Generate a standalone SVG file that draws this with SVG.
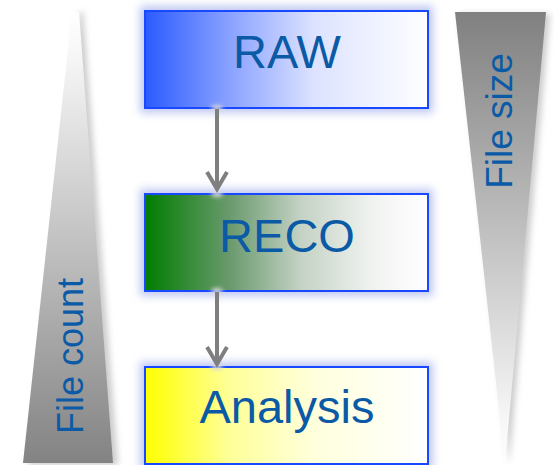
<svg xmlns="http://www.w3.org/2000/svg" width="554" height="465" viewBox="0 0 554 465">
<style>
.box{stroke:#1848ff;stroke-width:2}
.glow{fill:#bfc8f2;filter:url(#blur4)}
.lbl{font-family:"Liberation Sans",Arial,sans-serif;font-size:47px;fill:#0b5aa6;text-anchor:middle}
.side{font-family:"Liberation Sans",Arial,sans-serif;fill:#0b5aa6;text-anchor:middle}
.conn{stroke:#7f7f7f;stroke-width:4;fill:none}
.dot{fill:#d8d8d8;filter:url(#blur2)}
</style>
<defs>
<filter id="blur4" x="-20%" y="-20%" width="140%" height="140%"><feGaussianBlur stdDeviation="4"/></filter>
<filter id="blur2" x="-100%" y="-100%" width="300%" height="300%"><feGaussianBlur stdDeviation="2"/></filter>
<filter id="shadow" x="-30%" y="-10%" width="160%" height="120%"><feGaussianBlur stdDeviation="3"/></filter>
<linearGradient id="gRaw" x1="0" y1="0" x2="1" y2="0">
<stop offset="0" stop-color="#2b5bff"/><stop offset="0.3" stop-color="#8aa2ff"/><stop offset="0.6" stop-color="#dde3ff"/><stop offset="1" stop-color="#ffffff"/>
</linearGradient>
<linearGradient id="gReco" x1="0" y1="0" x2="1" y2="0">
<stop offset="0" stop-color="#007d00"/><stop offset="0.3" stop-color="#6a9a6e"/><stop offset="0.55" stop-color="#c4d2c4"/><stop offset="0.8" stop-color="#f0f2f0"/><stop offset="1" stop-color="#ffffff"/>
</linearGradient>
<linearGradient id="gAna" x1="0" y1="0" x2="1" y2="0">
<stop offset="0" stop-color="#ffff00"/><stop offset="0.3" stop-color="#ffff99"/><stop offset="0.6" stop-color="#ffffdd"/><stop offset="1" stop-color="#ffffff"/>
</linearGradient>
<linearGradient id="gCount" x1="0" y1="0" x2="0" y2="1">
<stop offset="0" stop-color="#ffffff"/><stop offset="0.1" stop-color="#f6f6f6"/><stop offset="1" stop-color="#838383"/>
</linearGradient>
<linearGradient id="gSize" x1="0" y1="0" x2="0" y2="1">
<stop offset="0" stop-color="#808080"/><stop offset="0.9" stop-color="#f6f6f6"/><stop offset="1" stop-color="#ffffff"/>
</linearGradient>
</defs>
<rect width="554" height="465" fill="#ffffff"/>

<g id="file-count">
<polygon points="79,12 83,12 118,465 28,465" fill="#b5b5b5" opacity="0.7" filter="url(#shadow)"/>
<polygon points="72,12 79,12 113,463 23,463" fill="url(#gCount)"/>
<text class="side" font-size="36" transform="translate(83,356) rotate(-90)">File count</text>
</g>

<g id="file-size">
<polygon points="459,14 550,14 509,465" fill="#b5b5b5" opacity="0.7" filter="url(#shadow)"/>
<polygon points="455,12 546,12 505,463" fill="url(#gSize)"/>
<text class="side" font-size="37" transform="translate(512,121) rotate(-90)">File size</text>
</g>

<g id="raw">
<rect class="glow" x="140" y="6" width="293" height="107"/>
<rect class="box" x="145" y="11" width="283" height="97" fill="url(#gRaw)"/>
<text class="lbl" x="287" y="68">RAW</text>
</g>

<g id="reco">
<rect class="glow" x="140" y="189" width="293" height="107"/>
<rect class="box" x="145" y="194" width="283" height="97" fill="url(#gReco)"/>
<text class="lbl" x="287" y="252">RECO</text>
</g>

<g id="analysis">
<rect class="glow" x="140" y="362" width="293" height="107"/>
<rect class="box" x="145" y="367" width="283" height="97" fill="url(#gAna)"/>
<text class="lbl" x="287" y="423">Analysis</text>
</g>

<g id="connectors">
<ellipse class="dot" cx="217" cy="108" rx="6" ry="3"/>
<ellipse class="dot" cx="217" cy="194" rx="6" ry="3"/>
<ellipse class="dot" cx="217" cy="291" rx="6" ry="3"/>
<ellipse class="dot" cx="217" cy="367" rx="6" ry="3"/>
<path class="conn" d="M217,109 V189 M207,172 L217,189 L227,172"/>
<path class="conn" d="M217,292 V364 M207,347 L217,364 L227,347"/>
</g>
</svg>
